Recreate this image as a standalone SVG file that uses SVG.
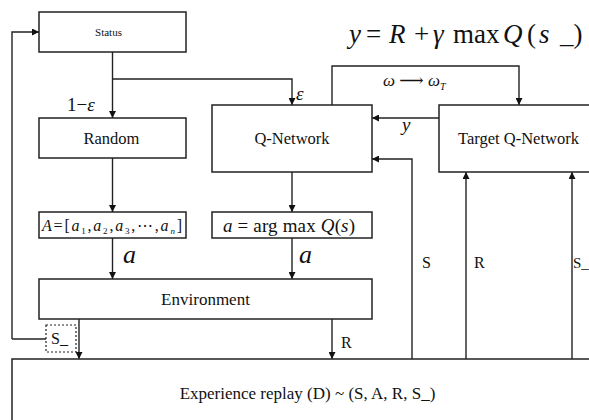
<svg xmlns="http://www.w3.org/2000/svg" width="589" height="420" viewBox="0 0 589 420">
<defs>
<marker id="ah" viewBox="0 0 10 10" refX="10" refY="5" markerWidth="7" markerHeight="7" markerUnits="userSpaceOnUse" orient="auto"><path d="M0,0 L10,5 L0,10 z" fill="#111"/></marker>
<style>
.box{fill:#fff;stroke:#222;stroke-width:1.5}
.ln{fill:none;stroke:#222;stroke-width:1.4}
.t{font-family:"Liberation Serif","Times New Roman","DejaVu Serif",serif;fill:#111}
.m{font-family:"Liberation Serif","Times New Roman","DejaVu Serif",serif;font-style:italic;fill:#111}
</style>
</defs>
<rect width="589" height="420" fill="#fff"/>
<g id="connectors">
<path class="ln" d="M12,339 V32 H39" marker-end="url(#ah)"/>
<path class="ln" d="M112.5,52 V118" marker-end="url(#ah)"/>
<path class="ln" d="M112.5,79 H292 V105" marker-end="url(#ah)"/>
<path class="ln" d="M332,105 V66 H519 V105" marker-end="url(#ah)"/>
<path class="ln" d="M439,118 H372" marker-end="url(#ah)"/>
<path class="ln" d="M112.5,158 V212" marker-end="url(#ah)"/>
<path class="ln" d="M292,172 V212" marker-end="url(#ah)"/>
<path class="ln" d="M112.5,238 V279" marker-end="url(#ah)"/>
<path class="ln" d="M292,238 V279" marker-end="url(#ah)"/>
<path class="ln" d="M79,319 V359" marker-end="url(#ah)"/>
<path class="ln" d="M332,319 V359" marker-end="url(#ah)"/>
<path class="ln" d="M12,339 H46"/>
<path class="ln" d="M412,359 V159 H372" marker-end="url(#ah)"/>
<path class="ln" d="M466,359 V172" marker-end="url(#ah)"/>
<path class="ln" d="M572,359 V172" marker-end="url(#ah)"/>
<text class="t" x="67" y="111" font-size="19">1−<tspan font-style="italic">ε</tspan></text>
<text class="m" x="296" y="100" font-size="19">ε</text>
<text class="m" x="383" y="86" font-size="17">ω<tspan font-style="normal"> ⟶ </tspan>ω<tspan font-size="10" dy="4">T</tspan></text>
<text class="m" x="402" y="131" font-size="19">y</text>
<text class="m" x="123" y="263" font-size="26">a</text>
<text class="m" x="299" y="263" font-size="26">a</text>
<text class="t" x="341" y="348" font-size="16">R</text>
<text class="t" x="422" y="268" font-size="16">S</text>
<text class="t" x="474" y="268" font-size="16">R</text>
<text class="t" x="573" y="268" font-size="15">S_</text>
</g>
<g id="equation">
<text class="t" y="43" font-size="27"><tspan x="349" font-style="italic">y</tspan><tspan x="366">=</tspan><tspan x="389" font-style="italic">R</tspan><tspan x="414">+</tspan><tspan x="433" font-style="italic">γ</tspan><tspan x="453">max</tspan><tspan x="503" font-style="italic">Q</tspan><tspan x="527">(</tspan><tspan x="539" font-style="italic">s</tspan><tspan x="560">_)</tspan></text>
</g>
<g id="status">
<rect class="box" x="39" y="12" width="147" height="40"/>
<text class="t" x="108.5" y="36" font-size="11" text-anchor="middle">Status</text>
</g>
<g id="random">
<rect class="box" x="39" y="118" width="147" height="40"/>
<text class="t" x="111.5" y="144" font-size="16.5" text-anchor="middle">Random</text>
</g>
<g id="qnetwork">
<rect class="box" x="212" y="105" width="160" height="67"/>
<text class="t" x="292" y="144" font-size="16.5" text-anchor="middle">Q-Network</text>
</g>
<g id="target">
<rect class="box" x="439" y="105" width="160" height="67"/>
<text class="t" x="518.5" y="144" font-size="16.5" text-anchor="middle">Target Q-Network</text>
</g>
<g id="actionset">
<rect class="box" x="39" y="212" width="147" height="26"/>
<text class="t" x="42" y="231" font-size="16" textLength="140" lengthAdjust="spacing"><tspan font-style="italic">A</tspan>=[<tspan font-style="italic">a</tspan><tspan font-size="9" dy="3">1</tspan><tspan dy="-3">,</tspan><tspan font-style="italic">a</tspan><tspan font-size="9" dy="3">2</tspan><tspan dy="-3">,</tspan><tspan font-style="italic">a</tspan><tspan font-size="9" dy="3">3</tspan><tspan dy="-3">,⋯,</tspan><tspan font-style="italic">a</tspan><tspan font-size="9" dy="3" font-style="italic">n</tspan><tspan dy="-3">]</tspan></text>
</g>
<g id="argmax">
<rect class="box" x="212" y="212" width="160" height="26"/>
<text class="t" x="223" y="232" font-size="19" textLength="132" lengthAdjust="spacing"><tspan font-style="italic">a</tspan> = arg max <tspan font-style="italic">Q</tspan>(<tspan font-style="italic">s</tspan>)</text>
</g>
<g id="environment">
<rect class="box" x="39" y="279" width="333" height="40"/>
<text class="t" x="205.5" y="305" font-size="17" text-anchor="middle">Environment</text>
</g>
<g id="snext">
<rect x="46" y="325" width="30" height="27" fill="#fff" stroke="#222" stroke-width="1.2" stroke-dasharray="2,2"/>
<text class="t" x="51" y="344" font-size="16">S_</text>
</g>
<g id="replay">
<rect class="box" x="12" y="359" width="600" height="80"/>
<text class="t" x="307.5" y="399" font-size="17" text-anchor="middle">Experience replay (D) ~ (S, A, R, S_)</text>
</g>
</svg>
